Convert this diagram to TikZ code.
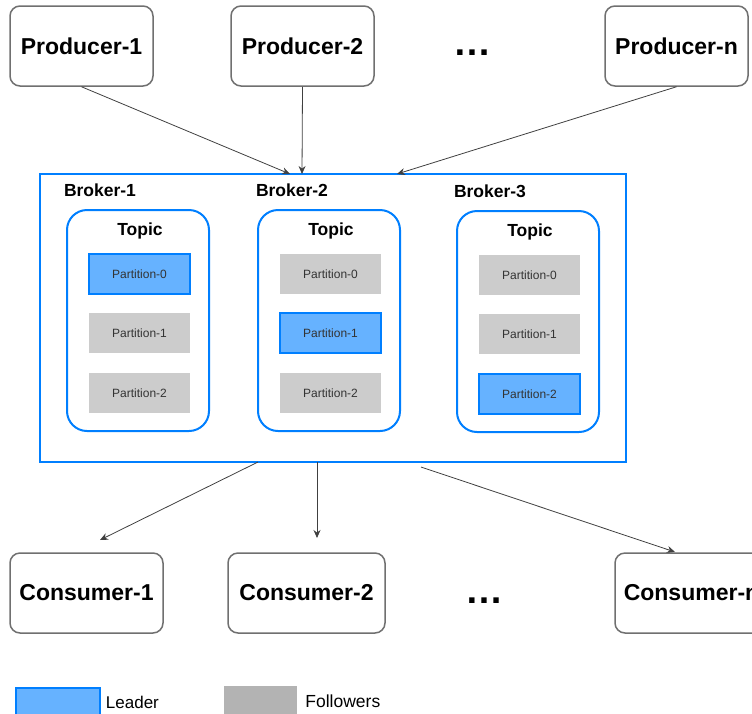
\documentclass[tikz,border=0pt]{standalone}
\usepackage{fontspec}
\setmainfont{Liberation Sans}
\usepackage{tikz}
\usetikzlibrary{arrows.meta,positioning}

\definecolor{boxgray}{HTML}{707070}
\definecolor{kblue}{HTML}{007FFF}
\definecolor{leadfill}{HTML}{66B2FF}
\definecolor{follfill}{HTML}{CCCCCC}
\definecolor{legfoll}{HTML}{B3B3B3}
\definecolor{arrgray}{HTML}{404040}

\tikzset{
	client/.style={draw=boxgray, line width=1.5pt, rounded corners=10pt, fill=white,
		minimum height=80pt, font=\fontsize{23}{27}\selectfont\bfseries},
	broker/.style={draw=kblue, line width=2pt, minimum width=586pt, minimum height=288pt},
	topicbox/.style={draw=kblue, line width=2pt, rounded corners=20pt,
		minimum width=142pt, minimum height=221pt},
	leader/.style={draw=kblue, line width=1.5pt, fill=leadfill, minimum width=101pt,
		minimum height=40pt, text=black!80, font=\fontsize{12}{14}\selectfont},
	follower/.style={fill=follfill, minimum width=101pt, minimum height=40pt,
		text=black!80, font=\fontsize{12}{14}\selectfont},
	label/.style={font=\fontsize{17.5}{20}\selectfont\bfseries},
	flow/.style={-{Stealth[length=8pt,width=7pt]}, arrgray, line width=0.8pt},
	dots/.style={font=\fontsize{38}{38}\selectfont\bfseries}
}

\begin{document}
\begin{tikzpicture}[x=1pt,y=-1pt]
	\useasboundingbox (0,0) rectangle (752,713);

	% producers
	\node (P1) [client, minimum width=143pt] at (81.5,46) {Producer-1};
	\node (P2) [client, minimum width=143pt] at (302.5,46) {Producer-2};
	\node (Pd) [dots] at (472,53) {…};
	\node (Pn) [client, minimum width=143pt] at (676.5,46) {Producer-n};

	% brokers
	\node (K) [broker] at (333,318) {};
	\node (B1) [label] at (100,190) {Broker-1};
	\node (B2) [label] at (292,190) {Broker-2};
	\node (B3) [label] at (490,191) {Broker-3};

	\node (T1) [topicbox] at (138,320.5) {};
	\node (T2) [topicbox] at (329,320.5) {};
	\node (T3) [topicbox] at (528,321.5) {};
	\node (t1) [label] at (140,231) {Topic};
	\node (t2) [label] at (331,231) {Topic};
	\node (t3) [label] at (530,232) {Topic};

	\node (a0) [leader] at (139.5,274) {Partition-0};
	\node (a1) [follower] at (139.5,333) {Partition-1};
	\node (a2) [follower] at (139.5,393) {Partition-2};
	\node (b0) [follower] at (330.5,274) {Partition-0};
	\node (b1) [leader] at (330.5,333) {Partition-1};
	\node (b2) [follower] at (330.5,393) {Partition-2};
	\node (c0) [follower] at (529.5,275) {Partition-0};
	\node (c1) [follower] at (529.5,334) {Partition-1};
	\node (c2) [leader] at (529.5,394) {Partition-2};

	% consumers
	\node (C1) [client, minimum width=153pt] at (86.5,593) {Consumer-1};
	\node (C2) [client, minimum width=157pt] at (306.5,593) {Consumer-2};
	\node (Cd) [dots] at (484,601) {…};
	\node (Cn) [client, minimum width=153pt] at (691.5,593) {Consumer-n};

	\coordinate (in1) at (290,174);
	\coordinate (in2) at (302,174);
	\coordinate (in3) at (397,174);
	\coordinate (out1) at (258,462);
	\coordinate (out2) at (317,462);
	\coordinate (out3) at (421,467);
	\coordinate (end1) at (100,540);
	\coordinate (end2) at (317,538);
	\coordinate (end3) at (675,552);

	\draw [flow] (P1.south) -- (in1);
	\draw [flow] (P2.south) -- (in2);
	\draw [flow] (Pn.south) -- (in3);
	\draw [flow] (out1) -- (end1);
	\draw [flow] (out2) -- (end2);
	\draw [flow] (out3) -- (end3);

	% legend
	\node (L) [draw=kblue, line width=1.5pt, fill=leadfill, minimum width=84pt, minimum height=28pt] at (58,702) {};
	\node (F) [fill=legfoll, minimum width=73pt, minimum height=30pt] at (260.5,701) {};
	\node (Lt) [right=5pt of L, inner sep=0pt, font=\fontsize{17}{20}\selectfont] {Leader};
	\node (Ft) [right=8pt of F, inner sep=0pt, font=\fontsize{17.5}{20}\selectfont] {Followers};

\end{tikzpicture}
\end{document}
